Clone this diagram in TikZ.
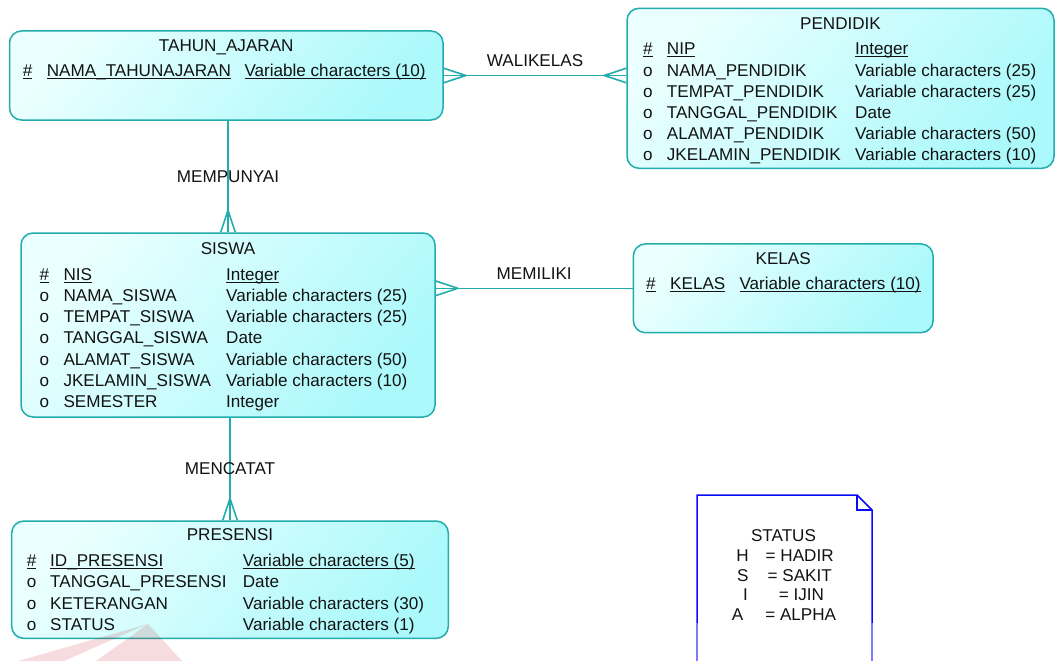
\documentclass[tikz,border=0pt]{standalone}
\usepackage{fontspec}
\setmainfont{Liberation Sans}
\usetikzlibrary{calc}

\definecolor{relteal}{RGB}{34,172,172}
\definecolor{fillA}{RGB}{234,255,255}
\definecolor{fillB}{RGB}{172,249,251}
\definecolor{inktext}{RGB}{18,18,18}
\definecolor{noteblue}{RGB}{10,10,250}
\definecolor{notefade}{RGB}{125,125,250}
\definecolor{markred}{RGB}{200,40,50}

\newcommand\erfont{\fontsize{17.1}{20}\selectfont}
% primary-key underline
\newcommand\key[1]{\leavevmode\setbox0=\hbox{#1}\rlap{\rule[-2.6pt]{\wd0}{1.1pt}}\box0}
% one row of mark / attribute / type per list item
\newcommand\entityrows[7]{%
  \foreach [count=\i] \m/\n/\t in {#7} {
    \node[fld] (#1-m\i) at (#2,{#5+#6*(\i-1)}) {\m};
    \node[fld] (#1-n\i) at (#3,{#5+#6*(\i-1)}) {\n};
    \node[fld] (#1-t\i) at (#4,{#5+#6*(\i-1)}) {\t};
  }}

\begin{document}
\begin{tikzpicture}[x=1pt,y=-1pt,
  every node/.style={text=inktext, font=\erfont, inner sep=0pt},
  entity/.style={draw=relteal, line width=1.5pt, rounded corners=12pt,
    top color=fillA, bottom color=fillB, shading angle=50},
  fld/.style={anchor=base west},
  ttl/.style={anchor=base},
  relline/.style={draw=relteal, line width=1.6pt},
  crowfoot/.pic={\draw[relline] (0,-7.3) -- (22,0) -- (0,7.3);},
  notebox/.style={draw=noteblue, line width=1.5pt, line join=miter}]

\useasboundingbox (0,0) rectangle (1057,661);

% ---------- entities ----------
\node[entity, minimum width=433.5pt, minimum height=89pt] (tahun) at (226.25,75.5) {};
\node[entity, minimum width=427pt, minimum height=160pt] (pend) at (840.5,88.3) {};
\node[entity, minimum width=414pt, minimum height=184pt] (siswa) at (228,325) {};
\node[entity, minimum width=299.7pt, minimum height=88.7pt] (kelas) at (783.2,288.3) {};
\node[entity, minimum width=436.6pt, minimum height=117.3pt] (pres) at (230,579.7) {};

% ---------- relationships ----------
\draw[relline] (tahun.east) -- node[above=8pt] (lwali) {WALIKELAS} (tahun.east -| pend.west);
\pic at (tahun.east) {crowfoot};
\pic[rotate=180] at (tahun.east -| pend.west) {crowfoot};

\draw[relline] (siswa.north) -- node (lpunya) {MEMPUNYAI} (siswa.north |- tahun.south);
\pic[rotate=90] at (siswa.north) {crowfoot};

\draw[relline] (kelas.west) -- node[above=8pt] (lmilik) {MEMILIKI} (kelas.west -| siswa.east);
\pic at (kelas.west -| siswa.east) {crowfoot};

\draw[relline] (pres.north) -- node (lcatat) {MENCATAT} (pres.north |- siswa.south);
\pic[rotate=90] at (pres.north) {crowfoot};

% ---------- entity contents ----------
\node[ttl] (tahun-title) at (226.25,51.7) {TAHUN\_AJARAN};
\entityrows{tahun}{22.7}{46.7}{244.3}{76.5}{21.3}{
  {\key{\#}}/{\key{NAMA\_TAHUNAJARAN}}/{\key{Variable characters (10)}}}

\node[ttl] (pend-title) at (840.5,29.3) {PENDIDIK};
\entityrows{pend}{643}{666.7}{855}{54.8}{21.2}{
  {\key{\#}}/{\key{NIP}}/{\key{Integer}},
  o/NAMA\_PENDIDIK/Variable characters (25),
  o/TEMPAT\_PENDIDIK/Variable characters (25),
  o/TANGGAL\_PENDIDIK/Date,
  o/ALAMAT\_PENDIDIK/Variable characters (50),
  o/JKELAMIN\_PENDIDIK/Variable characters (10)}

\node[ttl] (siswa-title) at (228,254.3) {SISWA};
\entityrows{siswa}{39.5}{63.3}{226}{280}{21.28}{
  {\key{\#}}/{\key{NIS}}/{\key{Integer}},
  o/NAMA\_SISWA/Variable characters (25),
  o/TEMPAT\_SISWA/Variable characters (25),
  o/TANGGAL\_SISWA/Date,
  o/ALAMAT\_SISWA/Variable characters (50),
  o/JKELAMIN\_SISWA/Variable characters (10),
  o/SEMESTER/Integer}

\node[ttl] (kelas-title) at (783.2,264) {KELAS};
\entityrows{kelas}{646}{670}{739.3}{289.3}{21.3}{
  {\key{\#}}/{\key{KELAS}}/{\key{Variable characters (10)}}}

\node[ttl] (pres-title) at (230,540.7) {PRESENSI};
\entityrows{pres}{26.7}{50}{242.7}{566}{21.55}{
  {\key{\#}}/{\key{ID\_PRESENSI}}/{\key{Variable characters (5)}},
  o/TANGGAL\_PRESENSI/Date,
  o/KETERANGAN/Variable characters (30),
  o/STATUS/Variable characters (1)}

% ---------- status note ----------
\draw[notebox] (697,623) -- (697,495) -- (857,495) -- (872,510) -- (872,623);
\draw[notebox] (857,495) -- (857,510) -- (872,510);
\draw[notebox, draw=notefade] (697,623) -- (697,661);
\draw[notebox, draw=notefade] (872,623) -- (872,661);
\node[ttl] (st0) at (783.5,541) {STATUS};
\node[ttl] (st1) at (785,561) {H\hspace{17pt}= HADIR};
\node[ttl] (st2) at (784.5,581) {S\hspace{19pt}= SAKIT};
\node[ttl] (st3) at (783.5,600.5) {I\hspace{31pt}= IJIN};
\node[ttl] (st4) at (784,620) {A\hspace{22pt}= ALPHA};

% ---------- faint corner emblem ----------
\fill[markred, opacity=0.16] (148,624) -- (18,661) -- (64,661) -- cycle;
\fill[markred, opacity=0.16] (148,624) -- (96,661) -- (182,661) -- cycle;
\end{tikzpicture}
\end{document}
